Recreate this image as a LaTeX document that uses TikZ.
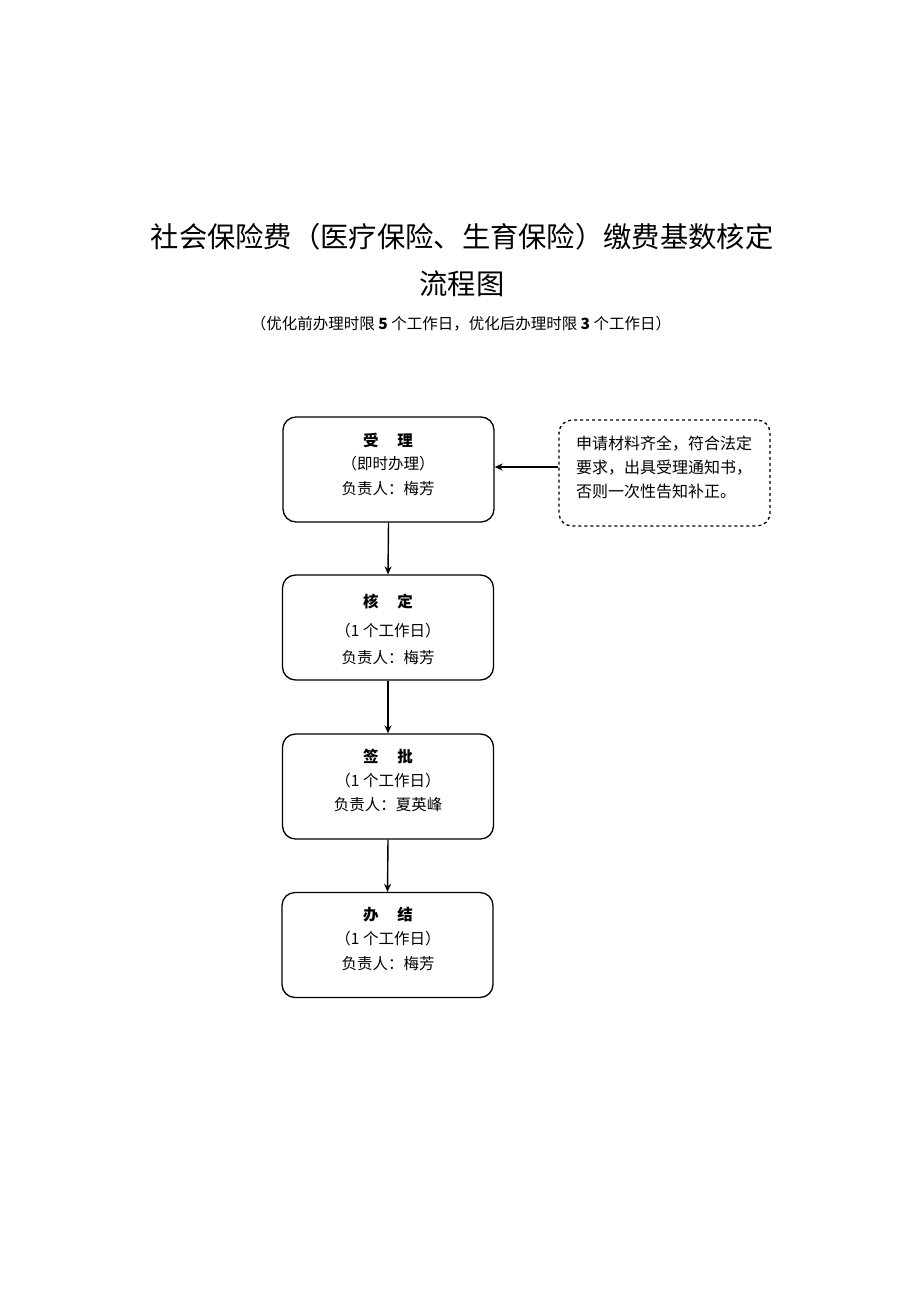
\documentclass[tikz,border=0pt]{standalone}
\usepackage{fontspec}
\setmainfont{Noto Sans CJK SC}
\usetikzlibrary{arrows.meta}
\begin{document}
\begin{tikzpicture}[x=1pt,y=-1pt,
  stepbox/.style={draw, line width=1.3pt, rounded corners=13pt, minimum width=211pt, minimum height=105pt, inner sep=0pt},
  notebox/.style={draw, dashed, line width=1.3pt, rounded corners=13pt, minimum width=211pt, minimum height=106pt, inner sep=0pt},
  txt/.style={font=\fontsize{15.5}{18}\selectfont, inner sep=0pt},
  ntxt/.style={font=\fontsize{16}{18}\selectfont, inner sep=0pt},
  hd/.style={font=\fontsize{15.5}{18}\selectfont\bfseries, inner sep=0pt},
  arr/.style={-{Stealth[length=8pt,width=7pt]}, line width=1.4pt}]
\useasboundingbox (0,0) rectangle (920,1301);
\node[inner sep=0pt, font=\fontsize{28.3}{34}\selectfont] (t1) at (462,237) {社会保险费（医疗保险、生育保险）缴费基数核定};
\node[inner sep=0pt, font=\fontsize{28.3}{34}\selectfont] (t2) at (462,284) {流程图};
\node[inner sep=0pt, font=\fontsize{15.5}{17}\selectfont] (t3) at (461,324) {（优化前办理时限 \textbf{5} 个工作日，优化后办理时限 \textbf{3} 个工作日）};

\node[stepbox] (b1) at (388.5,469.5) {};
\node[stepbox] (b2) at (388,627.5) {};
\node[stepbox] (b3) at (388,786.5) {};
\node[stepbox] (b4) at (387.5,945) {};
\node[notebox] (n) at (664.5,473) {};

\node[hd] (b1a) at (388,440) {受\hspace{1.2em}理};
\node[txt] (b1b) at (388,464) {（即时办理）};
\node[txt] (b1c) at (388,489) {负责人：梅芳};

\node[hd] (b2a) at (388,602) {核\hspace{1.2em}定};
\node[txt] (b2b) at (388,631) {（1 个工作日）};
\node[txt] (b2c) at (388,658) {负责人：梅芳};

\node[hd] (b3a) at (388,757) {签\hspace{1.2em}批};
\node[txt] (b3b) at (388,781) {（1 个工作日）};
\node[txt] (b3c) at (388,805) {负责人：夏英峰};

\node[hd] (b4a) at (388,915) {办\hspace{1.2em}结};
\node[txt] (b4b) at (388,939) {（1 个工作日）};
\node[txt] (b4c) at (388,964) {负责人：梅芳};

\node[ntxt, anchor=west] (n1) at (576,444) {申请材料齐全，符合法定};
\node[ntxt, anchor=west] (n2) at (576,468) {要求，出具受理通知书，};
\node[ntxt, anchor=west] (n3) at (576,491) {否则一次性告知补正。};

\draw[arr] (n.west |- 0,467) -- (b1.east |- 0,467);
\draw[arr] (b1.south) -- (b2.north);
\draw[arr] (b2.south) -- (b3.north);
\draw[arr] (b3.south) -- (b4.north);
\end{tikzpicture}
\end{document}
